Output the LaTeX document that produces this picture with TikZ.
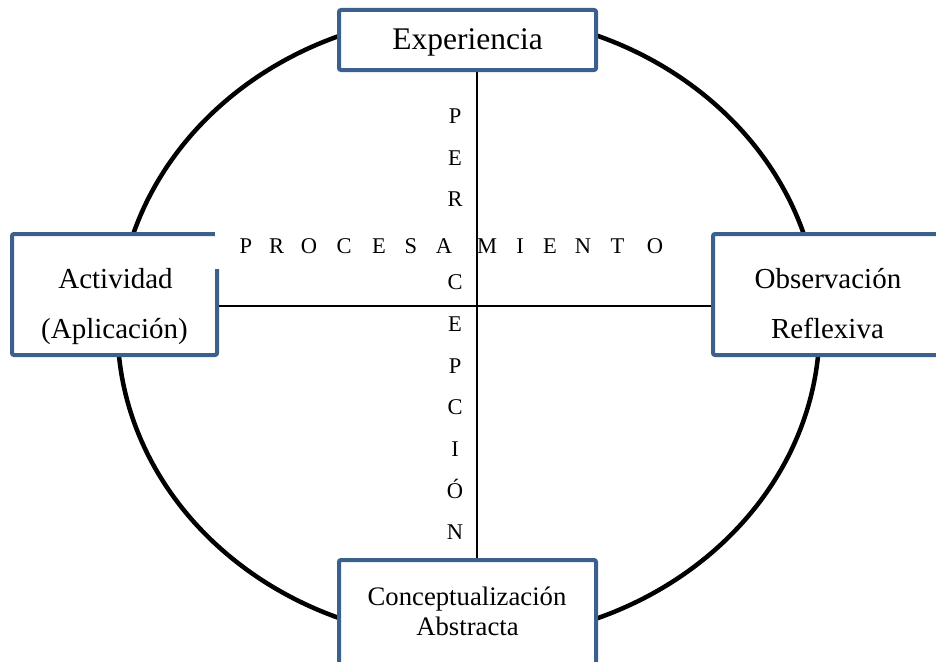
\documentclass[tikz,border=0pt]{standalone}
\usepackage{fontspec}
\setmainfont{Liberation Serif}
\definecolor{boxblue}{RGB}{60,96,142}
\begin{document}
\begin{tikzpicture}[x=1pt,y=-1pt,
  box/.style={draw=boxblue, line width=4pt, fill=white, rounded corners=2pt, inner sep=0pt},
  axisline/.style={line width=1.6pt, black},
  lbl/.style={anchor=base, inner sep=0pt},
  bigtxt/.style={lbl, font=\fontsize{31.5}{36}\selectfont},
  sidetxt/.style={lbl, font=\fontsize{29}{34}\selectfont},
  bottxt/.style={lbl, font=\fontsize{26.7}{31}\selectfont},
  letter/.style={anchor=base, inner sep=0pt, font=\fontsize{22.5}{26}\selectfont}]
\useasboundingbox (0,0) rectangle (936,661);
\clip (0,0) rectangle (936,661);
% cycle
\draw[line width=4.5pt] (468.5,327) ellipse [x radius=351pt, y radius=313pt];
% boxes
\node[box, minimum width=257pt, minimum height=60pt] (exp) at (467.5,40) {};
\node[box, minimum width=205pt, minimum height=121pt] (act) at (114.5,294.5) {};
\node[box, minimum width=230pt, minimum height=121pt] (obs) at (828,294.5) {};
\node[box, minimum width=257pt, minimum height=121pt] (con) at (467.5,620.5) {};
% text box of PROCESAMIENTO covering the corner
\fill[white] (215,231) rectangle (680,269);
% axes
\draw[axisline] ([yshift=-11.5pt]act.east) -- ([yshift=-11.5pt]obs.west);
\draw[axisline] ([xshift=9.5pt]exp.south) -- ([xshift=9.5pt]con.north);
% labels
\node[bigtxt] (texp) at (467.5,50) {Experiencia};
\node[sidetxt] (tact1) at (115.5,288) {Actividad};
\node[sidetxt] (tact2) at (114.5,338) {(Aplicación)};
\node[sidetxt] (tobs1) at (828,288) {Observación};
\node[sidetxt] (tobs2) at (827.5,338) {Reflexiva};
\node[bottxt] (tcon1) at (467,605) {Conceptualización};
\node[bottxt] (tcon2) at (467.5,635) {Abstracta};
% PROCESAMIENTO
\foreach \l/\x [count=\i] in {P/245.8,R/276.7,O/309,C/344,E/379,S/411,A/444,M/487,I/520,E/550,N/583,T/617.5,O/655}
  \node[letter] (h\i) at (\x,253) {\l};
% PERCEPCION
\foreach \l/\y [count=\i] in {P/123,E/165,R/206,C/289,E/331,P/373,C/414,I/456,Ó/498,N/539}
  \node[letter] (v\i) at (455,\y) {\l};
\end{tikzpicture}
\end{document}
